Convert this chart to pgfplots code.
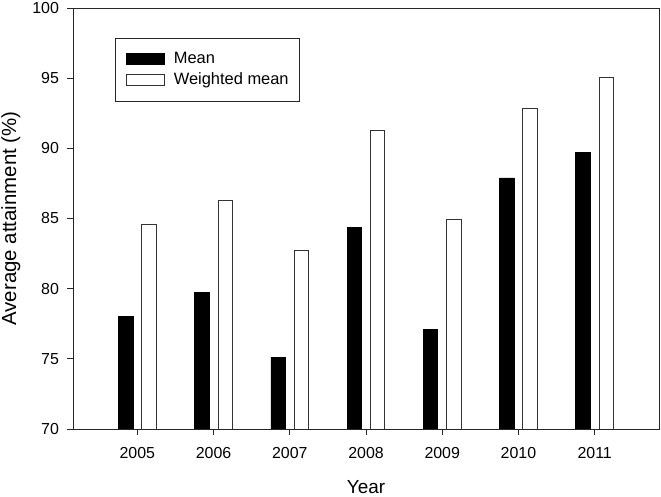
\documentclass[border=0pt]{standalone}
\usepackage{fontspec}
\setmainfont{Liberation Sans}
\usepackage{pgfplots}
\pgfplotsset{compat=1.18}
\begin{document}
\begin{tikzpicture}[x=1bp,y=1bp]
\useasboundingbox (0,0) rectangle (661,497);
\begin{axis}[
  at={(73bp,68bp)}, anchor=south west,
  scale only axis, width=586bp, height=421bp,
  ymin=70, ymax=100, ytick={70,75,...,100},
  xmin=-0.844, xmax=6.844, xtick={0,...,6},
  xticklabels={2005,2006,2007,2008,2009,2010,2011},
  tick align=outside, tick pos=left, major tick length=6bp,
  axis line style={line width=0.8bp, black!85},
  tick style={line width=0.8bp, black!85},
  /pgf/number format/assume math mode=true,
  tick label style={font=\fontsize{16}{19}\selectfont},
  xticklabel style={yshift=-8.5bp},
  yticklabel style={xshift=-4.5bp},
  xlabel={Year}, ylabel={Average attainment (\%)},
  ylabel style={font=\fontsize{20.5}{24}\selectfont, inner sep=0pt, at={(axis description cs:-0.106,0.5)}, anchor=center},
  xlabel style={font=\fontsize{19}{23}\selectfont, inner sep=0pt, at={(axis description cs:0.5,-0.1375)}, anchor=center},
  ybar, bar width=14.5bp,
  legend style={at={(rel axis cs:0.0717,0.9295)}, anchor=north west,
    draw=black!85, line width=0.8bp, fill=white,
    font=\fontsize{16.5}{19}\selectfont,
    inner xsep=11bp, inner ysep=14bp, row sep=7bp, column sep=9bp,
    nodes={inner sep=0pt, text height=11bp, text depth=3bp}},
  legend cell align=left,
]
\addplot[fill=black, draw=black, line width=0.8bp, bar shift=-11.6bp,
  legend image code/.code={\draw[fill=black,draw=black,line width=0.8bp] (0bp,-5.7bp) rectangle (37.6bp,5.7bp);}]
  coordinates {(0,78.05) (1,79.76) (2,75.13) (3,84.35) (4,77.08) (5,87.89) (6,89.69)};
\addlegendentry{Mean}
\addplot[fill=white, draw=black!80, line width=0.8bp, bar shift=11.6bp,
  legend image code/.code={\draw[fill=white,draw=black!80,line width=0.8bp] (0bp,-5.7bp) rectangle (37.6bp,5.7bp);}]
  coordinates {(0,84.59) (1,86.27) (2,82.73) (3,91.30) (4,84.96) (5,92.85) (6,95.06)};
\addlegendentry{Weighted mean}
\end{axis}
\end{tikzpicture}
\end{document}
